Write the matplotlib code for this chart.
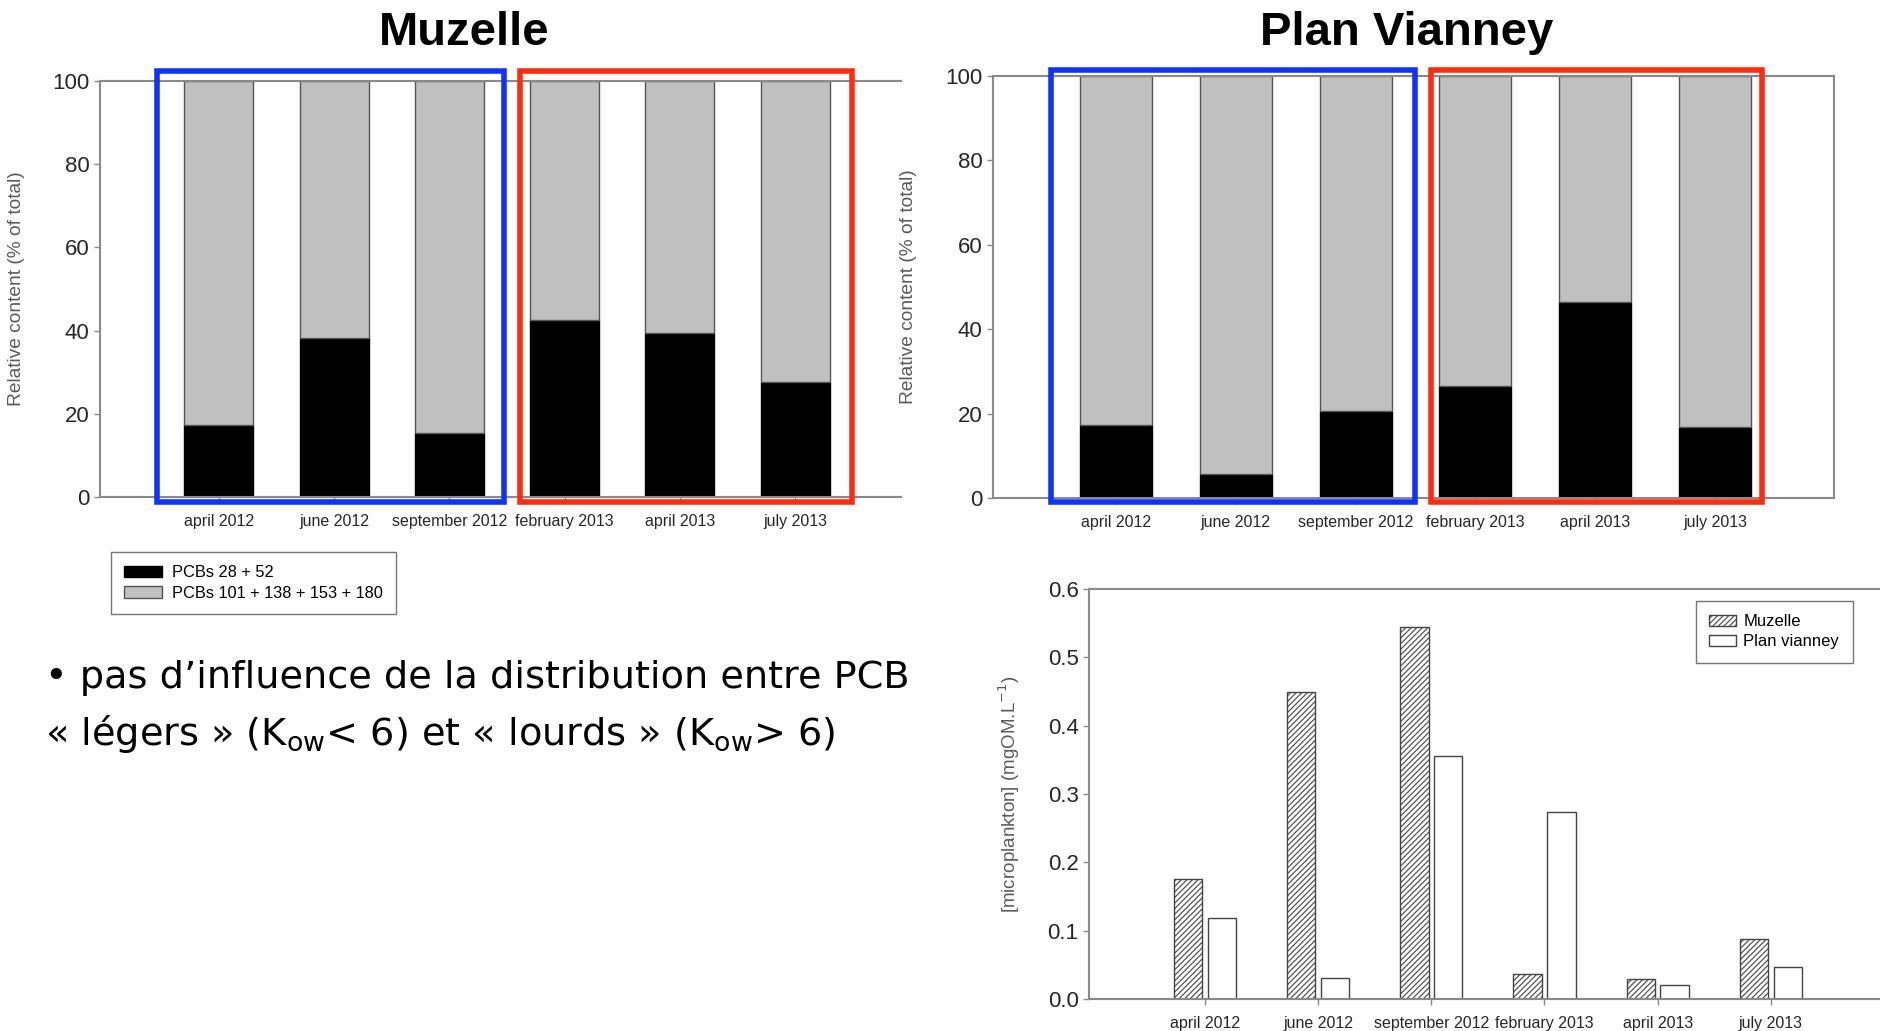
import matplotlib.pyplot as plt
import numpy as np
from matplotlib.patches import Patch, Rectangle

plt.rcParams["font.family"] = ["Liberation Sans", "DejaVu Sans"]
plt.rcParams["hatch.linewidth"] = 0.8

CATEGORIES = ["april 2012", "june 2012", "september 2012",
              "february 2013", "april 2013", "july 2013"]

# relative PCB content (% of total) per campaign
MUZELLE_LIGHT = [17.4, 38.2, 15.5, 42.6, 39.5, 27.7]
MUZELLE_HEAVY = [82.6, 61.8, 84.5, 57.4, 60.5, 72.3]
VIANNEY_LIGHT = [17.3, 5.8, 20.5, 26.6, 46.4, 16.9]
VIANNEY_HEAVY = [82.7, 94.2, 79.5, 73.4, 53.6, 83.1]

# microplankton concentration (mgOM/L)
PLANKTON_MUZELLE = [0.176, 0.450, 0.544, 0.037, 0.029, 0.088]
PLANKTON_VIANNEY = [0.118, 0.031, 0.355, 0.273, 0.020, 0.047]

LIGHT_LABEL = "PCBs 28 + 52"
HEAVY_LABEL = "PCBs 101 + 138 + 153 + 180"

W, H = 1881, 1031
AXIS_GRAY = "#8a8a8a"
BAR_GRAY = "#c0c0c0"
EDGE_GRAY = "#555555"
TEXT_DARK = "#262626"
BLUE = "#1034f5"
RED = "#ff2c10"


def px_box(left, top, right, bottom):
    return [left / W, 1 - bottom / H, (right - left) / W, (bottom - top) / H]


def style_axes(ax, right_spine=True):
    for side in ["left", "top", "bottom", "right"]:
        ax.spines[side].set_color(AXIS_GRAY)
        ax.spines[side].set_linewidth(1.5)
    ax.spines["right"].set_visible(right_spine)
    ax.tick_params(axis="both", direction="out", length=4.5, width=1.0, color=AXIS_GRAY)
    ax.tick_params(axis="x", labelsize=11.5, pad=8, labelcolor=TEXT_DARK)
    ax.tick_params(axis="y", labelsize=16, pad=3, labelcolor=TEXT_DARK)


def stacked_panel(ax, light, heavy, xlim, right_spine):
    x = np.arange(len(CATEGORIES))
    ax.bar(x, light, width=0.6, color="black", edgecolor="black", linewidth=1)
    ax.bar(x, heavy, bottom=light, width=0.6, color=BAR_GRAY,
           edgecolor=EDGE_GRAY, linewidth=1)
    ax.set_xlim(*xlim)
    ax.set_ylim(0, 100)
    ax.set_xticks(x, CATEGORIES)
    ax.set_yticks(range(0, 101, 20))
    ax.set_ylabel("Relative content (% of total)", fontsize=13.8, color="#5a5a5a")
    style_axes(ax, right_spine)


def group_box(ax, x0, x1, y0, y1, color):
    ax.add_patch(Rectangle((x0, y0), x1 - x0, y1 - y0, fill=False,
                           edgecolor=color, linewidth=4, clip_on=False, zorder=5))


fig = plt.figure(figsize=(W / 100, H / 100), dpi=100)

# Muzelle
ax1 = fig.add_axes(px_box(100, 81, 901, 497))
stacked_panel(ax1, MUZELLE_LIGHT, MUZELLE_HEAVY, (-1.031, 5.918), right_spine=False)
ax1.yaxis.set_label_coords(-0.094, 0.5)
group_box(ax1, -0.537, 2.478, -1.1, 102.5, BLUE)
group_box(ax1, 2.617, 5.494, -1.1, 102.5, RED)

# Plan Vianney
ax2 = fig.add_axes(px_box(993, 76, 1834, 498))
stacked_panel(ax2, VIANNEY_LIGHT, VIANNEY_HEAVY, (-1.027, 5.993), right_spine=True)
ax2.yaxis.set_label_coords(-0.090, 0.5)
group_box(ax2, -0.543, 2.496, -0.95, 101.4, BLUE)
group_box(ax2, 2.63, 5.39, -0.95, 101.4, RED)

fig.text(464, H - 45, "Muzelle", transform=None, ha="center", va="baseline",
         fontsize=34, fontweight="bold")
fig.text(1407, H - 45, "Plan Vianney", transform=None, ha="center", va="baseline",
         fontsize=34, fontweight="bold")

fig.legend(handles=[Patch(facecolor="black", edgecolor="black"),
                    Patch(facecolor=BAR_GRAY, edgecolor=EDGE_GRAY)],
           labels=[LIGHT_LABEL, HEAVY_LABEL],
           loc="upper left", bbox_to_anchor=(111 / W, 1 - 552 / H),
           fontsize=11.8, fancybox=False, edgecolor="#777777", framealpha=1,
           borderaxespad=0, handlelength=2.3, handleheight=0.7,
           handletextpad=0.6, labelspacing=0.35, borderpad=0.8)

# microplankton
ax3 = fig.add_axes(px_box(1089, 589, 1884, 999))
x = np.arange(len(CATEGORIES))
ax3.bar(x - 0.15, PLANKTON_MUZELLE, width=0.25, color="white", edgecolor="#444444",
        hatch="//////", linewidth=1, label="Muzelle")
ax3.bar(x + 0.15, PLANKTON_VIANNEY, width=0.25, color="white", edgecolor="#444444",
        linewidth=1, label="Plan vianney")
ax3.set_xlim(-1.025, 6.0)
ax3.set_ylim(0, 0.6)
ax3.set_xticks(x, CATEGORIES)
ax3.set_yticks(np.arange(0, 0.61, 0.1))
ax3.yaxis.set_major_formatter("{x:.1f}")
ax3.set_ylabel(r"[microplankton] (mgOM.L$^{-1}$)", fontsize=13.5, color="#5a5a5a")
ax3.yaxis.set_label_coords(-0.084, 0.5)
style_axes(ax3, right_spine=False)
ax3.legend(loc="upper left", bbox_to_anchor=(1696 / W, 1 - 601 / H),
           bbox_transform=fig.transFigure, fontsize=12, fancybox=False,
           edgecolor="#777777", framealpha=1, borderaxespad=0,
           handlelength=1.6, handleheight=0.65, handletextpad=0.45,
           labelspacing=0.3, borderpad=0.8)

# bullet note
note_font = dict(family="DejaVu Sans", fontsize=27.5, color="black", va="baseline")
fig.text(45, H - 688, "\u2022 pas d\u2019influence de la distribution entre PCB",
         transform=None, **note_font)
fig.text(45, H - 745,
         "\u00ab l\u00e9gers \u00bb (K$_{\\mathrm{ow}}$< 6) et \u00ab lourds \u00bb (K$_{\\mathrm{ow}}$> 6)",
         transform=None, **note_font)

fig.savefig("out.png", dpi=100)
